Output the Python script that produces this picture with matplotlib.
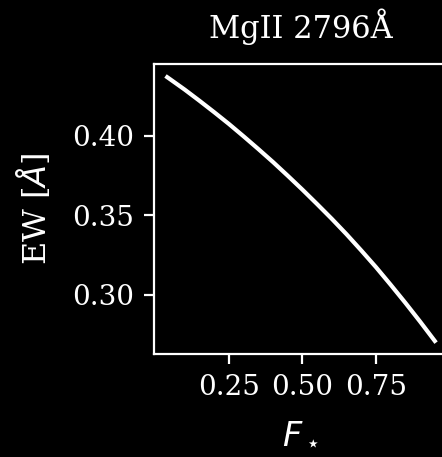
import numpy as np
import matplotlib
matplotlib.use("Agg")
import matplotlib.pyplot as plt

# valores
f_star = [0.04, 0.05, 0.10, 0.15, 0.20, 0.25, 0.30, 0.35, 0.40, 0.45, 0.50,
          0.55, 0.60, 0.65, 0.70, 0.75, 0.80, 0.85, 0.90, 0.95]
ew = [0.4370, 0.4357, 0.4291, 0.4221, 0.4149, 0.4075, 0.3997, 0.3917, 0.3835, 0.3749, 0.3661,
      0.3570, 0.3477, 0.3380, 0.3278, 0.3173, 0.3062, 0.2948, 0.2830, 0.2708]
titulo = "MgII 2796Å"

plt.style.use("dark_background")
plt.rcParams['font.family'] = ['DejaVu Serif']
plt.rcParams['mathtext.fontset'] = 'dejavusans'

fig = plt.figure(figsize=(2.21, 2.285), dpi=200)
ax = fig.add_axes([0.348, 0.225, 0.666, 0.635])
ax.plot(f_star, ew, color='white', lw=1.5)
ax.set_title(titulo, fontsize=11, pad=9.5)
ax.set_xlabel(r"$F_\star$", fontsize=12, labelpad=6)
ax.set_ylabel(r"EW [$\AA$]", fontsize=11.5, labelpad=7)
ax.set_xticks([0.25, 0.50, 0.75])
ax.set_yticks([0.30, 0.35, 0.40])

fig.savefig("out.png", dpi=200)
